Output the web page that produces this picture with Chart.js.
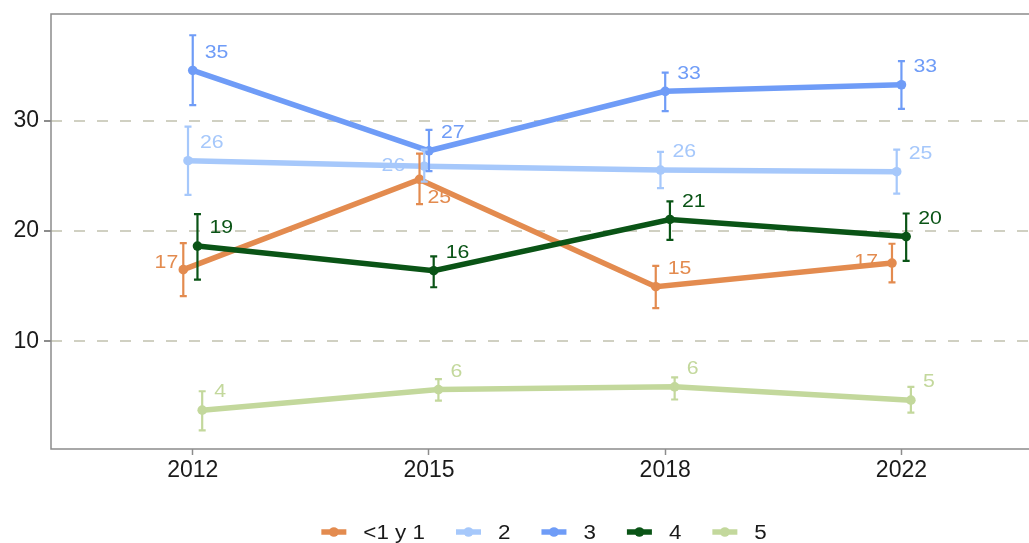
<!DOCTYPE html>
<html>
<head>
<meta charset="utf-8">
<script src="https://cdn.jsdelivr.net/npm/chart.js@4.4.1/dist/chart.umd.min.js"></script>
<style>
  html, body { margin: 0; padding: 0; background: #ffffff; overflow: hidden; }
  canvas { display: block; }
</style>
</head>
<body>
<canvas id="c" width="1029" height="543"></canvas>
<script>
// ---------- data ----------
const categories = ['2012', '2015', '2018', '2022'];
const seriesNames = ['<1 y 1', '2', '3', '4', '5'];
const yTicks = [10, 20, 30];

const valLt1  = [16.5, 24.7, 14.95, 17.1];
const lowLt1  = [14.1, 22.45, 13.0, 15.35];
const highLt1 = [18.9, 27.05, 16.85, 18.85];

const val2  = [26.4, 25.9, 25.55, 25.4];
const low2  = [23.3, 24.5, 23.9, 23.4];
const high2 = [29.5, 27.4, 27.2, 27.4];

const val3  = [34.6, 27.3, 32.7, 33.3];
const low3  = [31.45, 25.45, 30.9, 31.1];
const high3 = [37.8, 29.2, 34.4, 35.45];

const val4  = [18.64, 16.4, 21.06, 19.5];
const low4  = [15.6, 14.9, 19.2, 17.3];
const high4 = [21.55, 17.7, 22.7, 21.6];

const val5  = [3.73, 5.6, 5.85, 4.64];
const low5  = [1.9, 4.6, 4.7, 3.5];
const high5 = [5.45, 6.55, 6.7, 5.85];

const seriesValues = [valLt1, val2, val3, val4, val5];
const seriesLow = [lowLt1, low2, low3, low4, low5];
const seriesHigh = [highLt1, high2, high3, high4, high5];

// ---------- style ----------
const colors = ['#E38B4F', '#A6C8FB', '#6F9CF7', '#0A5416', '#C3D89C'];
const FONT = "'Liberation Sans', Arial, Helvetica, sans-serif";
const AXIS_GRAY = '#8c8c8c';
const TEXT_STRETCH = 1.12;
const dodgeStep = 0.02;

const datasets = seriesNames.map((name, i) => ({
  label: name,
  data: seriesValues[i].map((v, j) => ({ x: j + (i - 2) * dodgeStep, y: v })),
  borderColor: colors[i],
  backgroundColor: colors[i],
  borderWidth: 5.5,
  pointRadius: 4.8,
  pointBorderWidth: 0,
  pointHoverRadius: 4.8,
  tension: 0,
  fill: false,
  order: seriesNames.length - i
}));

// label placement (align, dx, dy) overrides, default to right/up
function labelPlacement(i, j) {
  const key = i + '-' + j;
  const special = {
    '0-0': ['right', -5, -7],
    '0-1': ['left', 8, 18],
    '0-3': ['right', -14, -1],
    '1-1': ['right', -19, 0]
  };
  return special[key] || ['left', 12, -18];
}

function stretchedText(ctx, text, x, y, align) {
  const w = ctx.measureText(text).width * TEXT_STRETCH;
  let left = x;
  if (align === 'right') left = x - w;
  else if (align === 'center') left = x - w / 2;
  ctx.save();
  ctx.translate(left, y);
  ctx.scale(TEXT_STRETCH, 1);
  ctx.textAlign = 'left';
  ctx.fillText(text, 0, 0);
  ctx.restore();
  return w;
}

const panelPlugin = {
  id: 'panel',
  beforeDatasetsDraw(chart) {
    const { ctx, chartArea: a } = chart;
    ctx.save();
    ctx.strokeStyle = AXIS_GRAY;
    ctx.lineWidth = 1.5;
    ctx.beginPath();
    ctx.moveTo(a.right + 2, a.top);
    ctx.lineTo(a.left, a.top);
    ctx.lineTo(a.left, a.bottom);
    ctx.lineTo(a.right + 2, a.bottom);
    ctx.stroke();
    ctx.restore();
  }
};

const errorBarPlugin = {
  id: 'errorBars',
  afterDatasetsDraw(chart) {
    const { ctx } = chart;
    const xs = chart.scales.x, ys = chart.scales.y;
    ctx.save();
    ctx.lineWidth = 2.2;
    seriesNames.forEach((n, i) => {
      ctx.strokeStyle = colors[i];
      seriesValues[i].forEach((v, j) => {
        const px = xs.getPixelForValue(j + (i - 2) * dodgeStep);
        const y1 = ys.getPixelForValue(seriesLow[i][j]);
        const y2 = ys.getPixelForValue(seriesHigh[i][j]);
        const cap = 3.5;
        ctx.beginPath();
        ctx.moveTo(px, y1); ctx.lineTo(px, y2);
        ctx.moveTo(px - cap, y1); ctx.lineTo(px + cap, y1);
        ctx.moveTo(px - cap, y2); ctx.lineTo(px + cap, y2);
        ctx.stroke();
      });
    });
    ctx.restore();
  }
};

const valueLabelPlugin = {
  id: 'valueLabels',
  afterDraw(chart) {
    const { ctx } = chart;
    const xs = chart.scales.x, ys = chart.scales.y;
    ctx.save();
    ctx.font = '19px ' + FONT;
    ctx.textBaseline = 'middle';
    seriesNames.forEach((n, i) => {
      ctx.fillStyle = colors[i];
      seriesValues[i].forEach((v, j) => {
        const px = xs.getPixelForValue(j + (i - 2) * dodgeStep);
        const py = ys.getPixelForValue(v);
        const [align, dx, dy] = labelPlacement(i, j);
        stretchedText(ctx, String(Math.round(v)), px + dx, py + dy, align);
      });
    });
    ctx.restore();
  }
};

const legendPlugin = {
  id: 'customLegend',
  afterDraw(chart) {
    const { ctx } = chart;
    const xs = chart.scales.x;
    const keyW = 25, gapKeyText = 17, gapItems = 31;
    ctx.save();
    ctx.font = '20px ' + FONT;
    const widths = seriesNames.map(n => ctx.measureText(n).width * TEXT_STRETCH);
    let total = 0;
    widths.forEach((w, i) => { total += keyW + gapKeyText + w + (i < widths.length - 1 ? gapItems : 0); });
    const center = xs.getPixelForValue((categories.length - 1) / 2) - 3;
    let x = center - total / 2;
    const y = 532;
    ctx.textBaseline = 'middle';
    seriesNames.forEach((n, i) => {
      ctx.strokeStyle = colors[i];
      ctx.fillStyle = colors[i];
      ctx.lineWidth = 5.5;
      ctx.beginPath();
      ctx.moveTo(x, y); ctx.lineTo(x + keyW, y);
      ctx.stroke();
      ctx.beginPath();
      ctx.arc(x + keyW / 2, y, 4.8, 0, Math.PI * 2);
      ctx.fill();
      ctx.fillStyle = '#1a1a1a';
      stretchedText(ctx, n, x + keyW + gapKeyText, y + 1, 'left');
      x += keyW + gapKeyText + widths[i] + gapItems;
    });
    ctx.restore();
  }
};

new Chart(document.getElementById('c'), {
  type: 'line',
  data: { datasets },
  plugins: [panelPlugin, errorBarPlugin, valueLabelPlugin, legendPlugin],
  options: {
    responsive: false,
    animation: false,
    events: [],
    layout: { autoPadding: false, padding: { top: 14, right: 0, left: 0, bottom: 0 } },
    plugins: { legend: { display: false }, tooltip: { enabled: false } },
    scales: {
      x: {
        type: 'linear',
        min: -0.6,
        max: 3.54,
        afterBuildTicks(scale) { scale.ticks = categories.map((c, j) => ({ value: j })); },
        afterFit(scale) { scale.height = 94; scale.paddingLeft = 0; scale.paddingRight = 0; },
        ticks: {
          callback: (v) => categories[v] !== undefined ? categories[v] : '',
          font: { family: FONT, size: 23 },
          color: '#1a1a1a',
          padding: 2,
          maxRotation: 0,
          autoSkip: false
        },
        grid: {
          drawOnChartArea: false,
          drawTicks: true,
          tickLength: 6,
          tickColor: AXIS_GRAY,
          tickWidth: 1.5
        },
        border: { display: false }
      },
      y: {
        type: 'linear',
        min: 0.2,
        max: 39.73,
        afterBuildTicks(scale) { scale.ticks = yTicks.map(v => ({ value: v })); },
        afterFit(scale) { scale.width = 51; scale.paddingTop = 0; scale.paddingBottom = 0; },
        ticks: {
          font: { family: FONT, size: 23 },
          color: '#1a1a1a',
          padding: 5
        },
        grid: {
          color: '#D0D0C2',
          lineWidth: 2,
          drawTicks: true,
          tickLength: 7,
          tickColor: AXIS_GRAY,
          tickWidth: 2
        },
        border: { display: false, dash: [11, 12] }
      }
    }
  }
});
</script>
</body>
</html>
